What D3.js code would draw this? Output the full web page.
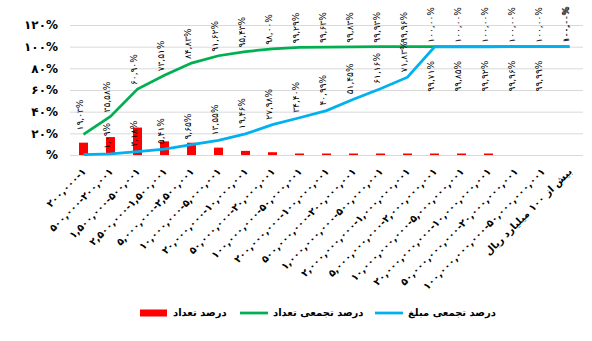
<!DOCTYPE html>
<html>
<head>
<meta charset="utf-8">
<script src="https://cdn.jsdelivr.net/npm/d3@7"></script>
<style>
body { margin: 0; background: #fff; }
text { font-family: "DejaVu Sans", sans-serif; }
</style>
</head>
<body>
<div id="chart"></div>
<script>
var categories = [
    "۲۰۰,۰۰۰-۱",
    "۵۰۰,۰۰۰-۲۰۰,۰۰۱",
    "۱,۵۰۰,۰۰۰-۵۰۰,۰۰۱",
    "۲,۵۰۰,۰۰۰-۱,۵۰۰,۰۰۱",
    "۵,۰۰۰,۰۰۰-۲,۵۰۰,۰۰۱",
    "۱۰,۰۰۰,۰۰۰-۵,۰۰۰,۰۰۱",
    "۲۰,۰۰۰,۰۰۰-۱۰,۰۰۰,۰۰۱",
    "۵۰,۰۰۰,۰۰۰-۲۰,۰۰۰,۰۰۱",
    "۱۰۰,۰۰۰,۰۰۰-۵۰,۰۰۰,۰۰۱",
    "۲۰۰,۰۰۰,۰۰۰-۱۰۰,۰۰۰,۰۰۱",
    "۵۰۰,۰۰۰,۰۰۰-۲۰۰,۰۰۰,۰۰۱",
    "۱,۰۰۰,۰۰۰,۰۰۰-۵۰۰,۰۰۰,۰۰۱",
    "۲,۰۰۰,۰۰۰,۰۰۰-۱,۰۰۰,۰۰۰,۰۰۱",
    "۵,۰۰۰,۰۰۰,۰۰۰-۲,۰۰۰,۰۰۰,۰۰۱",
    "۱۰,۰۰۰,۰۰۰,۰۰۰-۵,۰۰۰,۰۰۰,۰۰۱",
    "۲۰,۰۰۰,۰۰۰,۰۰۰-۱۰,۰۰۰,۰۰۰,۰۰۱",
    "۵۰,۰۰۰,۰۰۰,۰۰۰-۲۰,۰۰۰,۰۰۰,۰۰۱",
    "۱۰۰,۰۰۰,۰۰۰,۰۰۰-۵۰,۰۰۰,۰۰۰,۰۰۱",
    "بیش از ۱۰۰ میلیارد ریال"
];

// درصد تعداد
var countPct = [11.40, 16.55, 25.32, 12.61, 11.32, 6.79, 3.81, 2.57, 1.29, 0.34,
                0.20, 0.10, 0.03, 0.04, 0.02, 0.01, 0, 0, 0];
// درصد تجمعی تعداد
var cumCountPct = [19.03, 35.58, 60.90, 73.51, 84.83, 91.62, 95.43, 98.00, 99.29, 99.63,
                   99.83, 99.93, 99.96, 100, 100, 100, 100, 100, 100];
// درصد تجمعی مبلغ
var cumAmountPct = [0.33, 1.09, 3.18, 5.41, 9.65, 13.55, 19.46, 27.98, 34.40, 40.99,
                    51.45, 61.16, 71.83, 99.71, 99.85, 99.92, 99.96, 99.99, 100];

var yTicks = [0, 20, 40, 60, 80, 100, 120];
var yTickLabels = ["%", "۲۰%", "۴۰%", "۶۰%", "۸۰%", "۱۰۰%", "۱۲۰%"];

var legendNames = ["درصد تعداد", "درصد تجمعی تعداد", "درصد تجمعی مبلغ"];
var colors = ["#ff0000", "#00b050", "#00b0f0"];

var width = 592, height = 341;
var plotLeft = 70, plotRight = 583, plotTop = 25, plotBottom = 155;

var fa = "۰۱۲۳۴۵۶۷۸۹";
function persian(v) {
    return v.toFixed(2).replace(".", ",").replace(/[0-9]/g, function(c) { return fa[+c]; }) + "%";
}

var svg = d3.select("#chart").append("svg")
    .attr("width", width)
    .attr("height", height);

svg.append("rect").attr("width", width).attr("height", height).attr("fill", "#fff");

var x = d3.scaleBand()
    .domain(d3.range(categories.length))
    .range([plotLeft, plotRight])
    .padding(0);

var y = d3.scaleLinear()
    .domain([0, 120])
    .range([plotBottom, plotTop]);

var cx = function(i) { return x(i) + x.bandwidth() / 2; };

// grid + y labels
var yAxis = svg.append("g")
    .attr("transform", "translate(" + plotLeft + ",0)")
    .call(d3.axisLeft(y)
        .tickValues(yTicks)
        .tickSize(-(plotRight - plotLeft))
        .tickPadding(12)
        .tickFormat(function(d, i) { return yTickLabels[i]; }));
yAxis.select(".domain").remove();
yAxis.selectAll("line").attr("stroke", "#d9d9d9").attr("stroke-width", 1);
yAxis.selectAll("text")
    .attr("fill", "#000")
    .style("font-size", "12px")
    .style("font-weight", "bold");

// x labels
var xAxis = svg.append("g")
    .attr("transform", "translate(0," + plotBottom + ")")
    .call(d3.axisBottom(x).tickSize(0).tickFormat(function(d) { return categories[d]; }));
xAxis.select(".domain").remove();
xAxis.selectAll("text")
    .attr("fill", "#000")
    .attr("y", 0)
    .attr("dy", 0)
    .attr("text-anchor", "end")
    .attr("dominant-baseline", "middle")
    .attr("transform", "translate(1,15) rotate(-45)")
    .style("font-size", "10px")
    .style("font-weight", "bold");

// bars
svg.append("g").selectAll("rect")
    .data(countPct)
    .enter().append("rect")
    .attr("x", function(d, i) { return cx(i) - 4.5; })
    .attr("width", 9)
    .attr("y", function(d) { return d > 0 ? Math.min(y(d), plotBottom - 1.5) : plotBottom; })
    .attr("height", function(d) { return d > 0 ? Math.max(plotBottom - y(d), 1.5) : 0; })
    .attr("fill", colors[0]);

var line = d3.line()
    .x(function(d, i) { return cx(i); })
    .y(function(d) { return y(d); });

svg.append("path")
    .datum(cumCountPct)
    .attr("d", line)
    .attr("fill", "none")
    .attr("stroke", colors[1])
    .attr("stroke-width", 2.75);

svg.append("path")
    .datum(cumAmountPct)
    .attr("d", line)
    .attr("fill", "none")
    .attr("stroke", colors[2])
    .attr("stroke-width", 2.75);

// data labels, vertical
var labels = svg.append("g").style("font-size", "9px").attr("fill", "#000");

cumCountPct.forEach(function(v, i) {
    labels.append("text")
        .attr("transform", "translate(" + (cx(i) - 3) + "," + (y(v) - 4) + ") rotate(-90)")
        .attr("dominant-baseline", "middle")
        .text(persian(v));
});

cumAmountPct.forEach(function(v, i) {
    if (i === 0) return;
    var below = Math.abs(cumCountPct[i] - v) < 1 && i < cumAmountPct.length - 1;
    labels.append("text")
        .attr("transform", "translate(" + (cx(i) - 3) + "," + (below ? y(v) + 14 : y(v) - 5) + ") rotate(-90)")
        .attr("text-anchor", below ? "end" : "start")
        .attr("dominant-baseline", "middle")
        .text(persian(v));
});

// legend
var legend = svg.append("g").style("font-size", "10px").style("font-weight", "bold");
var legendX = [140, 240, 375];
legendNames.forEach(function(name, i) {
    var g = legend.append("g").attr("transform", "translate(" + legendX[i] + ",313)");
    if (i === 0) {
        g.append("rect").attr("x", 0).attr("y", -3.5).attr("width", 27).attr("height", 7).attr("fill", colors[0]);
    } else {
        g.append("line").attr("x1", 0).attr("x2", 28).attr("y1", 0).attr("y2", 0)
            .attr("stroke", colors[i]).attr("stroke-width", 2.75);
    }
    g.append("text")
        .attr("x", 33)
        .attr("y", 0)
        .attr("dominant-baseline", "middle")
        .attr("fill", "#000")
        .text(name);
});
</script>
</body>
</html>
